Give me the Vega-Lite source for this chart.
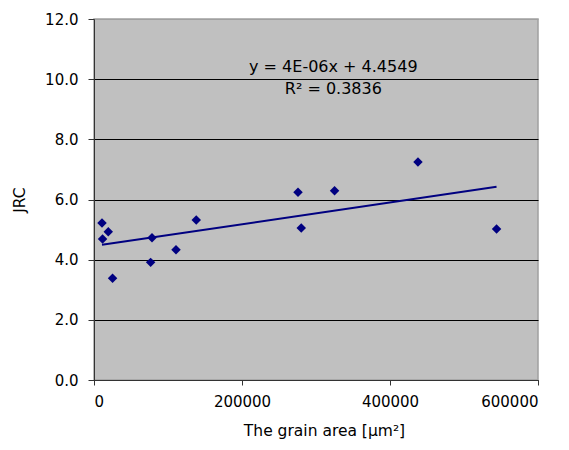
{
  "$schema": "https://vega.github.io/schema/vega-lite/v6.json",
  "width": 444,
  "height": 361,
  "autosize": {"type": "none"},
  "padding": {"left": 94, "top": 19, "right": 31, "bottom": 70},
  "background": "white",
  "config": {
    "font": "DejaVu Sans",
    "view": {"fill": "#c0c0c0", "stroke": "#a0a0a0", "strokeWidth": 1.5},
    "axis": {
      "labelFont": "DejaVu Sans",
      "labelFontSize": 15,
      "labelColor": "black",
      "titleFont": "DejaVu Sans",
      "titleFontSize": 15.5,
      "titleFontWeight": "normal",
      "titleColor": "black",
      "domainColor": "#333333",
      "tickColor": "#333333",
      "domainWidth": 1,
      "tickWidth": 1
    }
  },
  "data": {
    "values": [
      {"area": 10800, "JRC": 5.22},
      {"area": 11600, "JRC": 4.69},
      {"area": 19300, "JRC": 4.93},
      {"area": 25100, "JRC": 3.38},
      {"area": 78400, "JRC": 4.73},
      {"area": 76500, "JRC": 3.91},
      {"area": 110800, "JRC": 4.33},
      {"area": 138200, "JRC": 5.32},
      {"area": 275700, "JRC": 6.24},
      {"area": 280100, "JRC": 5.05},
      {"area": 325100, "JRC": 6.29},
      {"area": 437800, "JRC": 7.25},
      {"area": 544000, "JRC": 5.02}
    ]
  },
  "layer": [
    {
      "mark": {"type": "point", "shape": "diamond", "filled": true, "color": "#000080", "size": 90, "opacity": 1},
      "encoding": {
        "x": {
          "field": "area", "type": "quantitative",
          "scale": {"domain": [0, 600000], "nice": false, "zero": true},
          "axis": {
            "values": [0, 200000, 400000, 600000],
            "format": "d",
            "grid": false,
            "tickSize": 5,
            "labelPadding": 9,
            "title": "The grain area [μm²]",
            "titlePadding": 14,
            "titleX": 230
          }
        },
        "y": {
          "field": "JRC", "type": "quantitative",
          "scale": {"domain": [0, 12], "nice": false},
          "axis": {
            "values": [0, 2, 4, 6, 8, 10, 12],
            "format": ".1f",
            "grid": true,
            "gridColor": {"condition": {"test": "datum.value === 12", "value": "#a0a0a0"}, "value": "black"},
            "gridOpacity": 1,
            "gridWidth": 1,
            "tickSize": 6,
            "labelPadding": 10,
            "title": "JRC",
            "titlePadding": 17
          }
        }
      }
    },
    {
      "transform": [{"regression": "JRC", "on": "area", "method": "linear"}],
      "mark": {"type": "line", "color": "#000080", "strokeWidth": 2},
      "encoding": {
        "x": {"field": "area", "type": "quantitative"},
        "y": {"field": "JRC", "type": "quantitative"}
      }
    },
    {
      "data": {
        "values": [
          {"x": 323400, "y": 10.25, "label": "y = 4E-06x + 4.4549"},
          {"x": 323400, "y": 9.51, "label": "R² = 0.3836"}
        ]
      },
      "mark": {"type": "text", "align": "center", "baseline": "alphabetic", "fontSize": 16, "color": "black", "font": "DejaVu Sans"},
      "encoding": {
        "x": {"field": "x", "type": "quantitative"},
        "y": {"field": "y", "type": "quantitative"},
        "text": {"field": "label"}
      }
    }
  ]
}
